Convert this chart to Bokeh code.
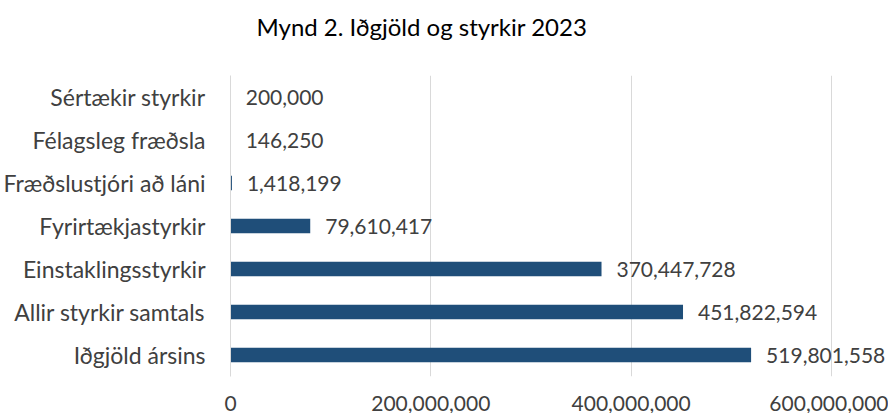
from bokeh.plotting import figure
from bokeh.models import ColumnDataSource, NumeralTickFormatter, FixedTicker, Title
from bokeh.embed import file_html
from bokeh.resources import INLINE
from bokeh.core.properties import value

categories = ["Iðgjöld ársins", "Allir styrkir samtals", "Einstaklingsstyrkir",
              "Fyrirtækjastyrkir", "Fræðslustjóri að láni", "Félagsleg fræðsla",
              "Sértækir styrkir"]
amounts = [519801558, 451822594, 370447728, 79610417, 1418199, 146250, 200000]
tick_values = [0, 200000000, 400000000, 600000000]
title_text = "Mynd 2. Iðgjöld og styrkir 2023"

FONT = "Lato"
TXT = "#404040"
BAR = "#1F4E79"

labels = ["{:,}".format(v) for v in amounts]
src = ColumnDataSource(dict(cat=categories, val=amounts, lab=labels))

p = figure(y_range=categories, x_range=(0, 655000000), width=888, height=413,
           output_backend="svg", toolbar_location=None,
           min_border_left=10, min_border_right=2, min_border_top=75, min_border_bottom=10)

spacer = Title(text=" ", text_font=FONT, text_font_size="27px", standoff=0)
p.add_layout(spacer, "above")
t = Title(text=title_text, align="left", offset=26, text_font=FONT, text_font_size="24px",
          text_color="#000000", text_font_style="normal", standoff=0)
p.add_layout(t, "above")

p.hbar(y="cat", right="val", left=0, height=0.34, source=src, color=BAR, line_color=None)
p.text(x="val", y="cat", text="lab", source=src, x_offset=15, text_align="left",
       text_baseline="middle", text_font=value(FONT), text_font_size="21px", text_color=TXT)

p.outline_line_color = None
p.ygrid.grid_line_color = None
p.xgrid.grid_line_color = "#D9D9D9"
p.xgrid.ticker = FixedTicker(ticks=tick_values)
p.xaxis.ticker = FixedTicker(ticks=tick_values)
p.xaxis.formatter = NumeralTickFormatter(format="0,0")
p.xaxis.axis_line_color = None
p.xaxis.major_tick_line_color = None
p.xaxis.minor_tick_line_color = None
p.xaxis.major_label_standoff = 13
p.xaxis.major_label_text_font = FONT
p.xaxis.major_label_text_font_size = "21px"
p.xaxis.major_label_text_color = TXT

p.yaxis.axis_line_color = "#D9D9D9"
p.yaxis.major_tick_line_color = None
p.yaxis.minor_tick_line_color = None
p.yaxis.major_label_standoff = 19
p.yaxis.major_label_text_font = FONT
p.yaxis.major_label_text_font_size = "23px"
p.yaxis.major_label_text_color = TXT
p.y_range.range_padding = 0

open("out.html", "w").write(file_html(p, INLINE))
